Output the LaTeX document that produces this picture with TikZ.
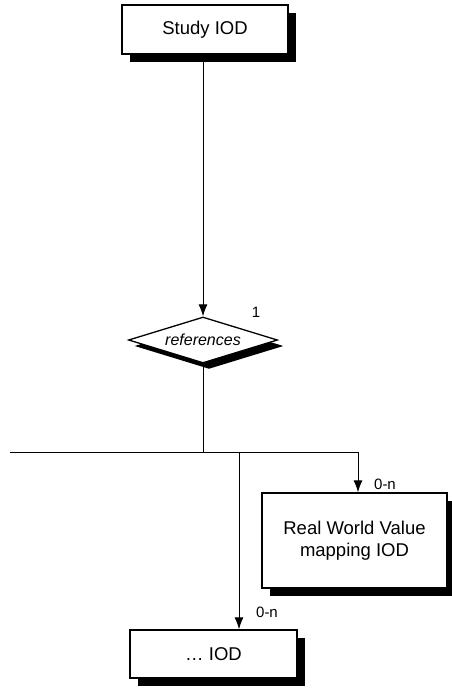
\documentclass[tikz,border=0pt]{standalone}
\usepackage{fontspec}
\setmainfont{Liberation Sans}
\usetikzlibrary{shapes.geometric,shadows,arrows.meta}
\begin{document}
\begin{tikzpicture}[x=1pt, y=-1pt, line width=1pt, >={Latex[length=12pt,width=9pt]},
  iod/.style={draw, line width=1.3pt, fill=white, font=\fontsize{18.5}{22}\selectfont,
    drop shadow={shadow xshift=8pt, shadow yshift=-8pt, fill=black, opacity=1}},
  rel/.style={diamond, draw, line width=1.3pt, fill=white, aspect=3.2, inner sep=0pt,
    minimum width=149pt, minimum height=46pt, font=\fontsize{16}{19}\selectfont\itshape,
    drop shadow={shadow xshift=6pt, shadow yshift=-6pt, fill=black, opacity=1}},
  card/.style={font=\fontsize{15}{18}\selectfont}]
\useasboundingbox (0,0) rectangle (452,688);

\node[iod, minimum width=166pt, minimum height=49pt] (s) at (205,29.5) {Study IOD};
\node[rel] (r) at (203,340) {references};
\node[iod, minimum width=185pt, minimum height=95pt, align=center] (m) at (354.5,540.5) {Real World Value\\mapping IOD};
\node[iod, minimum width=167pt, minimum height=48pt] (d) at (213.5,654) {… IOD};

\node[card] (one) at (256,312) {1};
\node[card] (nm) at (385,484) {0-n};
\node[card] (nd) at (267,612) {0-n};

\coordinate (j) at (203,452);
\coordinate (l) at (10,452);
\coordinate (mj) at (358,452);
\coordinate (dj) at (239,452);

\draw[->] (s.south -| r.north) -- (r.north);
\draw (r.south) -- (j);
\draw (l) -- (mj);
\draw[->] (mj) -- (mj |- m.north);
\draw[->] (dj) -- (dj |- d.north);
\end{tikzpicture}
\end{document}
